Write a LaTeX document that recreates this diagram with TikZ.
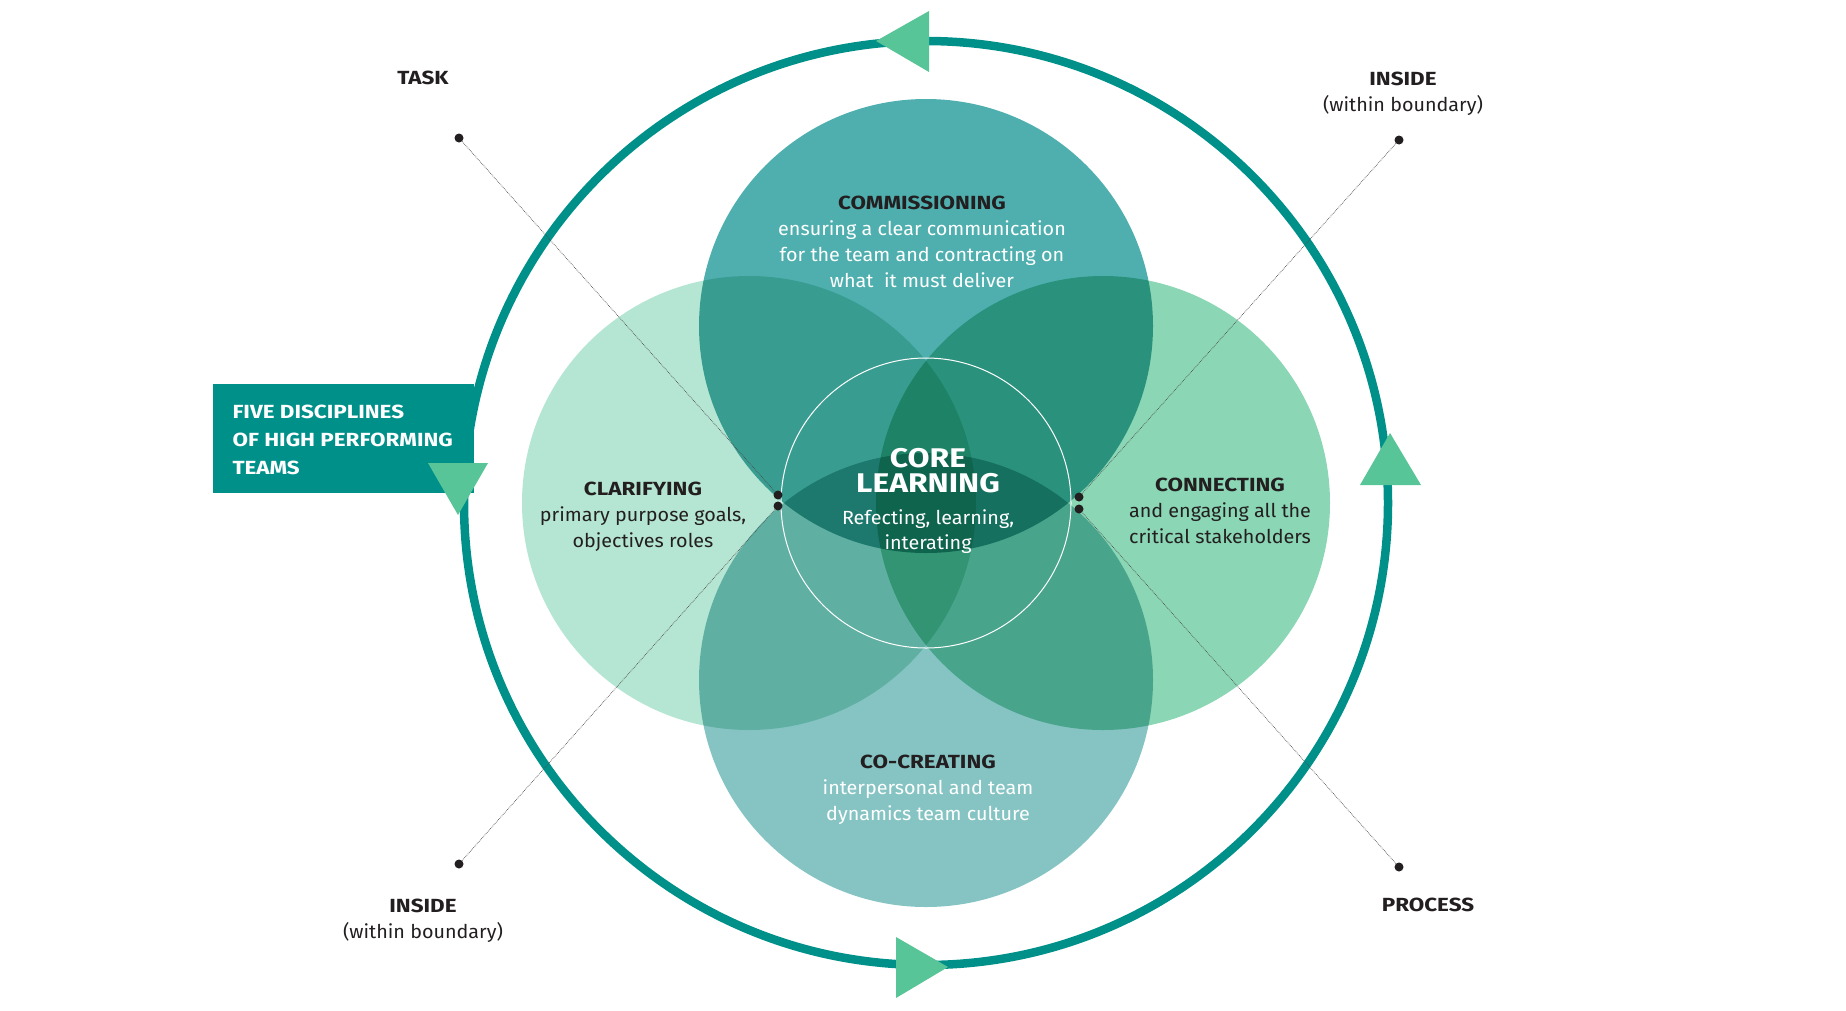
\documentclass[tikz,border=0pt]{standalone}
\usepackage{fontspec}
\setmainfont{Fira Sans}[FakeStretch=1.04, BoldFeatures={FakeStretch=1.18}]
\definecolor{ringteal}{HTML}{00908A}
\definecolor{trigreen}{HTML}{57C597}
\definecolor{topdisc}{HTML}{4FAFAF}
\definecolor{leftdisc}{HTML}{B5E6D3}
\definecolor{rightdisc}{HTML}{8AD6B5}
\definecolor{botdisc}{HTML}{86C4C4}
\definecolor{darktext}{HTML}{231F20}
\begin{document}
\begin{tikzpicture}[x=1pt,y=-1pt]

  \tikzstyle{tri} = [fill=trigreen]
  \tikzstyle{dot} = [circle, fill=darktext, inner sep=0pt, minimum size=9pt]
  \tikzstyle{guide} = [densely dotted, line width=0.7pt, darktext!80]
  \tikzstyle{label} = [align=center, text=darktext, font=\fontsize{19}{26}\selectfont]

  \useasboundingbox (0,0) rectangle (1846,1010);

  \fill[ringteal] (213,384) rectangle (474,493);
  \node[anchor=west, align=left, text=white, font=\bfseries\fontsize{19}{28}\selectfont] (banner) at (229,440) {FIVE DISCIPLINES\\OF HIGH PERFORMING\\TEAMS};

  \draw[ringteal, line width=8.5pt] (926,503) circle (462pt);

  % the four disciplines
  \begin{scope}[blend group=multiply]
    \fill[topdisc] (926,326) circle (227pt);
    \fill[leftdisc] (749,503) circle (227pt);
    \fill[rightdisc] (1103,503) circle (227pt);
    \fill[botdisc] (926,680) circle (227pt);
  \end{scope}
  \draw[white, line width=1pt] (926,503) circle (145pt);

  \fill[tri] (876,41) -- (929,11) -- (929,72) -- cycle;
  \fill[tri] (428,463) -- (488,463) -- (458,515) -- cycle;
  \fill[tri] (948,967) -- (896,937) -- (896,998) -- cycle;
  \fill[tri] (1390,433) -- (1360,485) -- (1421,485) -- cycle;

  \node[label] (commissioning) at (922,242) {{\bfseries COMMISSIONING}\\\color{white}ensuring a clear communication\\\color{white}for the team and contracting on\\\color{white}what\ \ it must deliver};
  \node[label] (clarifying) at (643,516.5) {{\bfseries CLARIFYING}\\primary purpose goals,\\objectives roles};
  \node[label] (connecting) at (1220,511) {{\bfseries CONNECTING}\\and engaging all the\\critical stakeholders};
  \node[label] (cocreating) at (928,789.5) {{\bfseries CO-CREATING}\\\color{white}interpersonal and team\\\color{white}dynamics team culture};
  \node[label, text=white, font=\bfseries\fontsize{27}{25}\selectfont] (core) at (928,470.5) {CORE\\LEARNING};
  \node[label, text=white, font=\fontsize{19}{25}\selectfont] (coretext) at (928,532) {Refecting, learning,\\interating};

  \node[label] (task) at (423,78) {\bfseries TASK};
  \node[label] (insidetop) at (1403,93.5) {{\bfseries INSIDE}\\(within boundary)};
  \node[label] (insidebot) at (423,920.5) {{\bfseries INSIDE}\\(within boundary)};
  \node[label] (process) at (1428,905) {\bfseries PROCESS};

  \node[dot] (tl) at (459,138) {};
  \node[dot] (tr) at (1399,140) {};
  \node[dot] (bl) at (459,864) {};
  \node[dot] (br) at (1399,867) {};
  \node[dot] (lu) at (778,495) {};
  \node[dot] (ll) at (778,506) {};
  \node[dot] (ru) at (1079,497) {};
  \node[dot] (rl) at (1079,509) {};

  \draw[guide] (tl) -- (lu);
  \draw[guide] (bl) -- (ll);
  \draw[guide] (tr) -- (ru);
  \draw[guide] (br) -- (rl);

\end{tikzpicture}
\end{document}
